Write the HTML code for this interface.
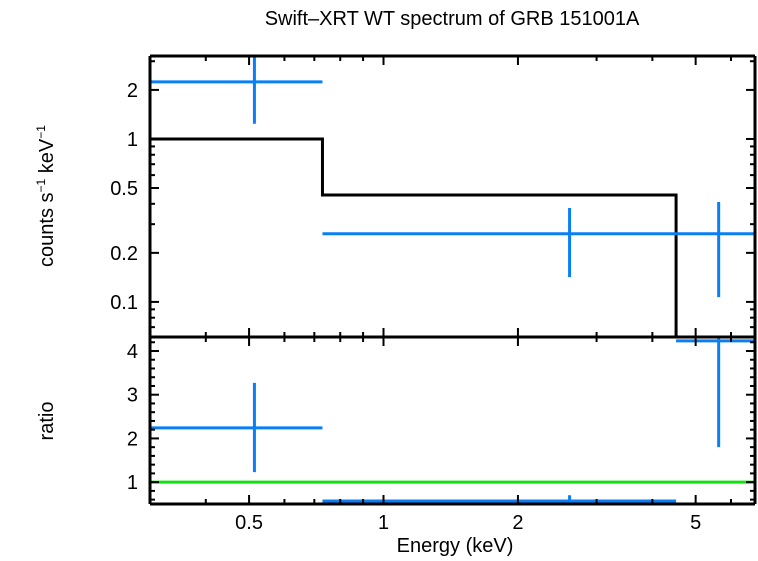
<!DOCTYPE html>
<html><head><meta charset="utf-8"><style>
html,body{margin:0;padding:0;background:#fff}
svg text{font-family:"Liberation Sans",sans-serif;fill:#000}
</style></head><body>
<svg id="chart" width="758" height="556" viewBox="0 0 758 556" xmlns="http://www.w3.org/2000/svg">
<text x="452" y="25" font-size="20" text-anchor="middle">Swift–XRT WT spectrum of GRB 151001A</text>
<text transform="translate(53,196) rotate(-90)" font-size="20" text-anchor="middle">counts s<tspan font-size="12" dy="-8">−1</tspan><tspan dy="8"> keV</tspan><tspan font-size="12" dy="-8">−1</tspan></text>
<text transform="translate(53,421) rotate(-90)" font-size="20" text-anchor="middle">ratio</text>
<text x="455" y="552" font-size="20" text-anchor="middle">Energy (keV)</text>
<g id="marks"></g>
</svg>
<script>
const binLo=[0.3,0.73,4.52];
const binHi=[0.73,4.52,6.79];
const binMid=[0.514,2.61,5.63];
const rate=[2.24,0.262,0.262];
const rateErrLo=[1.24,0.142,0.107];
const rateErrHi=[3.4,0.377,0.41];
const model=[1.0,0.453,0.03];
const ratio=[2.24,0.57,4.23];
const ratioErrLo=[1.23,0.45,1.8];
const ratioErrHi=[3.27,0.7,4.6];
const xTicksMajor=[0.5,1,2,5];
const xTicksMinor=[0.3,0.4,0.6,0.7,0.8,0.9,3,4,6];
const yTopLabels=[0.1,0.2,0.5,1,2];
const yTopMinor=[0.07,0.08,0.09,0.3,0.4,0.6,0.7,0.8,0.9,3];
const yBotLabels=[1,2,3,4];

const L=150,R=755,T=56,M=337,B=504;
const xMin=0.3,xMax=6.79,ytMin=0.0609,ytMax=3.23,ybMin=0.5,ybMax=4.32;
const X=v=>L+(Math.log10(v)-Math.log10(xMin))/(Math.log10(xMax)-Math.log10(xMin))*(R-L);
const YT=v=>M-(Math.log10(v)-Math.log10(ytMin))/(Math.log10(ytMax)-Math.log10(ytMin))*(M-T);
const YB=v=>B-(v-ybMin)/(ybMax-ybMin)*(B-M);
const clamp=(v,a,b)=>Math.max(a,Math.min(b,v));
const g=document.getElementById('marks');
const NS='http://www.w3.org/2000/svg';
function ln(x1,y1,x2,y2,c,w,name){const e=document.createElementNS(NS,'line');
e.setAttribute('x1',x1);e.setAttribute('y1',y1);e.setAttribute('x2',x2);e.setAttribute('y2',y2);
e.setAttribute('stroke',c);e.setAttribute('stroke-width',w);


g.appendChild(e);return e;}
function tx(x,y,s,anchor,name){const e=document.createElementNS(NS,'text');
e.setAttribute('x',x);e.setAttribute('y',y);e.setAttribute('font-size','20');e.setAttribute('text-anchor',anchor);e.textContent=s;


g.appendChild(e);}
const BLUE='#0a7ff5';
let path='';
for(let i=0;i<binLo.length;i++){const y=clamp(YT(model[i]),T,M);
path+=(i===0?'M':'L')+X(binLo[i])+' '+y+' L'+X(binHi[i])+' '+y+' ';}
const mp=document.createElementNS(NS,'path');mp.setAttribute('d',path);mp.setAttribute('fill','none');mp.setAttribute('stroke','#000');mp.setAttribute('stroke-width','3');


g.appendChild(mp);
ln(L,YB(1),R,YB(1),'#11e011',3,'ratio-unity-line');
for(let i=0;i<binLo.length;i++){
 const y=YT(rate[i]);
 ln(X(binLo[i]),y,X(binHi[i]),y,BLUE,3,'data-bin-'+i);
 ln(X(binMid[i]),clamp(YT(rateErrHi[i]),T,M),X(binMid[i]),clamp(YT(rateErrLo[i]),T,M),BLUE,3,'data-err-'+i);
 const yb=YB(ratio[i]);
 ln(X(binLo[i]),yb,X(binHi[i]),yb,BLUE,3,'ratio-bin-'+i);
 ln(X(binMid[i]),clamp(YB(ratioErrHi[i]),M,B),X(binMid[i]),clamp(YB(ratioErrLo[i]),M,B),BLUE,3,'ratio-err-'+i);
}
[[L,T,R,T],[L,M,R,M],[L,B,R,B],[L,T,L,B],[R,T,R,B]].forEach((f,i)=>ln(f[0],f[1],f[2],f[3],'#000',3,'frame-edge-'+i));
xTicksMajor.forEach(v=>{const x=X(v);
 [T,M,B].forEach(y=>{ if(y!==T) ln(x,y-9,x,y,'#000',2,'x-major-tick'); if(y!==B) ln(x,y,x,y+9,'#000',2,'x-major-tick');});
 tx(x,529,String(v),'middle','x-tick-label');});
xTicksMinor.forEach(v=>{const x=X(v);
 [T,M,B].forEach(y=>{ if(y!==T) ln(x,y-5,x,y,'#000',2,'x-minor-tick'); if(y!==B) ln(x,y,x,y+5,'#000',2,'x-minor-tick');});});
yTopLabels.forEach(v=>{const y=YT(v);ln(L,y,L+9,y,'#000',2,'y-top-major-tick');ln(R-9,y,R,y,'#000',2,'y-top-major-tick');tx(138,y+7,String(v),'end','y-top-tick-label');});
yTopMinor.forEach(v=>{const y=YT(v);if(y<T||y>M)return;ln(L,y,L+5,y,'#000',2,'y-top-minor-tick');ln(R-5,y,R,y,'#000',2,'y-top-minor-tick');});
yBotLabels.forEach(v=>{const y=YB(v);ln(L,y,L+9,y,'#000',2,'y-bottom-major-tick');ln(R-9,y,R,y,'#000',2,'y-bottom-major-tick');tx(138,y+7,String(v),'end','y-bottom-tick-label');});
for(let v=0.6;v<4.3;v+=0.2){if(Math.abs(v-Math.round(v))<0.01)continue;const y=YB(v);ln(L,y,L+5,y,'#000',2,'y-bottom-minor-tick');ln(R-5,y,R,y,'#000',2,'y-bottom-minor-tick');}
</script>
</body></html>
